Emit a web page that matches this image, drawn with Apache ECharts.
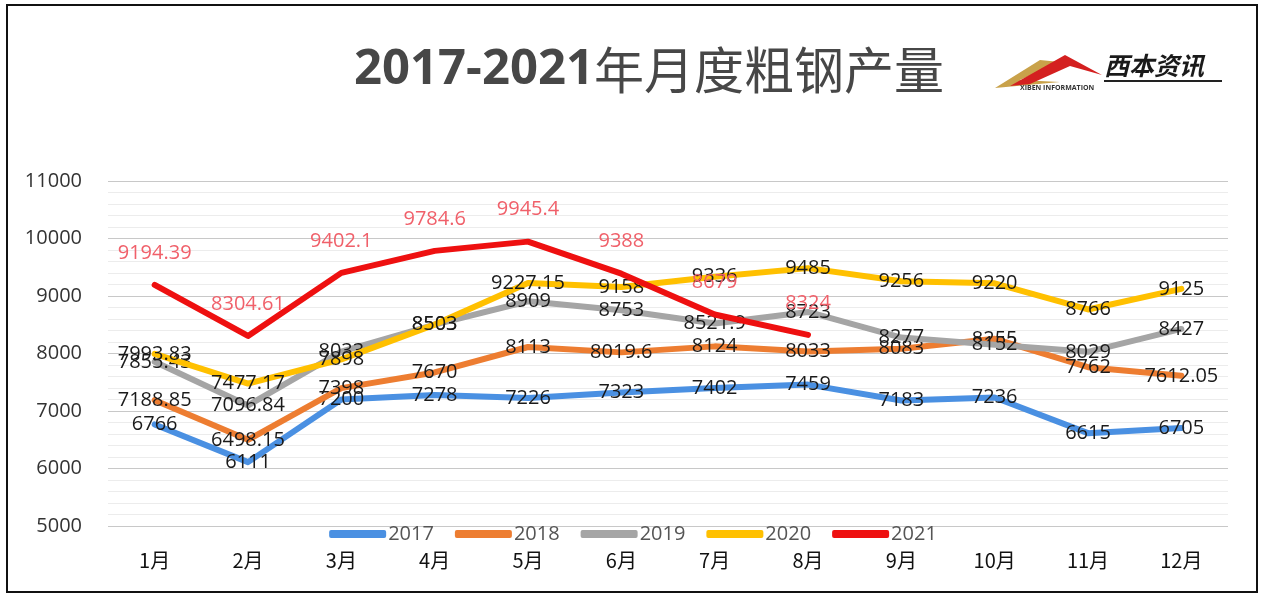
<!DOCTYPE html>
<html><head><meta charset="utf-8">
<script src="https://cdn.jsdelivr.net/npm/echarts@6/dist/echarts.min.js"></script>
<style>html,body{margin:0;padding:0;background:#fff}#c{width:1266px;height:604px}</style>
</head><body><div id="c"></div>
<script>
const categories = ['1月','2月','3月','4月','5月','6月','7月','8月','9月','10月','11月','12月'];
const years = ['2017','2018','2019','2020','2021'];
const s2017 = [6766, 6111, 7200, 7278, 7226, 7323, 7402, 7459, 7183, 7236, 6615, 6705];
const s2018 = [7188.85, 6498.15, 7398, 7670, 8113, 8019.6, 8124, 8033, 8083, 8255, 7762, 7612.05];
const s2019 = [7855.43, 7096.84, 8033, 8503, 8909, 8753, 8521.9, 8723, 8277, 8152, 8029, 8427];
const s2020 = [7993.83, 7477.17, 7898, 8503, 9227.15, 9158, 9336, 9485, 9256, 9220, 8766, 9125];
const s2021 = [9194.39, 8304.61, 9402.1, 9784.6, 9945.4, 9388, 8679, 8324];
const yTicks = [5000, 11000, 1000];

const colors = ['#4a90e2', '#ed7d31', '#a5a5a5', '#ffc000', '#ee1010'];
const seriesData = [s2017, s2018, s2019, s2020, s2021];
const FONT = '"Open Sans", "Noto Sans CJK SC", sans-serif';
const CJK = '"Noto Sans CJK SC", sans-serif';

const chart = echarts.init(document.getElementById('c'));
const series = years.map((y, i) => ({
  name: y, type: 'line', data: seriesData[i],
  symbol: 'circle', symbolSize: 2, showSymbol: true, showAllSymbol: true,
  smooth: false,
  lineStyle: { width: 6, color: colors[i], cap: 'round', join: 'round' },
  itemStyle: { color: colors[i] },
  z: 2 + i,
  labelLayout: { hideOverlap: false },
  label: i === 4 ? {
    show: true, position: 'top', distance: 21, color: '#f0606a', fontSize: 20, fontFamily: FONT
  } : {
    show: true, position: 'inside', color: '#1a1a1a', fontSize: 20, fontFamily: FONT
  }
}));

chart.setOption({
  animation: false,
  backgroundColor: '#fff',
  title: {
    text: '{d|2017-2021}{c|年月度粗钢产量}', left: 644, textAlign: 'center', top: 40,
    textStyle: {
      rich: {
        d: { fontSize: 49, fontWeight: 'bold', color: '#474747', fontFamily: FONT },
        c: { fontSize: 50, fontWeight: 'normal', color: '#474747', fontFamily: CJK }
      }
    }
  },
  legend: {
    data: years, top: 519, left: 'center', itemWidth: 57, itemHeight: 8, itemGap: 21,
    icon: 'roundRect',
    textStyle: { fontSize: 20, color: '#555', fontFamily: FONT, padding: [0,0,0,-3] }
  },
  grid: { left: 108, right: 38, top: 181, bottom: 78 },
  xAxis: {
    type: 'category', data: categories, boundaryGap: true,
    axisLine: { show: false }, axisTick: { show: false },
    axisLabel: { fontSize: 20, color: '#111', margin: 24, fontFamily: CJK }
  },
  yAxis: {
    type: 'value', min: yTicks[0], max: yTicks[1], interval: yTicks[2],
    axisLine: { show: false }, axisTick: { show: false },
    axisLabel: { fontSize: 20, color: '#333', margin: 26, fontFamily: FONT, formatter: v => String(v) },
    splitLine: { lineStyle: { color: '#c8c8c8', width: 1 } },
    minorTick: { show: false, splitNumber: 5 },
    minorSplitLine: { show: true, lineStyle: { color: '#ececec', width: 1 } }
  },
  series: series,
  graphic: [
    { type: 'rect', shape: { x: 7, y: 5, width: 1250, height: 587 }, style: { fill: 'none', stroke: '#111', lineWidth: 2 }, z: 100 },
    { type: 'polygon', shape: { points: [[995,88],[1040,60],[1060,62],[1020,80],[1060,82]] }, style: { fill: '#c9a24a' }, z: 100 },
    { type: 'polygon', shape: { points: [[1010,86],[1065,55],[1102,75],[1070,66],[1030,84]] }, style: { fill: '#d42020' }, z: 100 },
    { type: 'text', style: { text: '西本资讯', x: 1104, y: 53, fontSize: 25, fontWeight: 'bold', fontStyle: 'italic', fill: '#1a1a1a', fontFamily: CJK }, z: 100 },
    { type: 'rect', shape: { x: 1104, y: 80, width: 118, height: 2 }, style: { fill: '#222' }, z: 100 },
    { type: 'text', style: { text: 'XIBEN INFORMATION', x: 1020, y: 85, fontSize: 7, fontWeight: 'bold', fill: '#333', fontFamily: FONT }, z: 100 }
  ]
});
</script></body></html>
